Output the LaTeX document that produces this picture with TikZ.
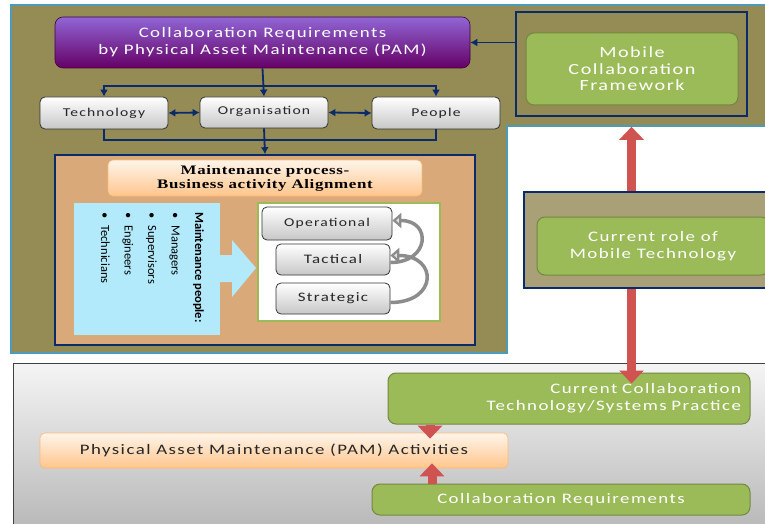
\documentclass[tikz,border=0pt]{standalone}
\usepackage{fontspec}
\setmainfont{Carlito}
\newfontfamily\widesf{Carlito}[FakeStretch=1.3,LetterSpace=10]
\newfontfamily\titlerm{Liberation Serif}[FakeStretch=1.3,LetterSpace=5]
\usetikzlibrary{arrows.meta,calc}
\definecolor{olive}{HTML}{958B55}
\definecolor{oliveli}{HTML}{A9A078}
\definecolor{navy}{HTML}{0B2A6B}
\definecolor{teal}{HTML}{4A9CB8}
\definecolor{leaf}{HTML}{9BBB59}
\definecolor{leafdk}{HTML}{71893F}
\definecolor{tan}{HTML}{D9A97A}
\definecolor{sky}{HTML}{B3EAFB}
\definecolor{arrred}{HTML}{CF5350}
\begin{document}
\begin{tikzpicture}[x=1pt,y=-1pt,
    font=\widesf\fontsize{14.5}{17}\selectfont,
    navarr/.style={draw=navy,line width=1.8pt,-{Latex[length=7pt,width=8pt]}},
    navboth/.style={draw=navy,line width=1.8pt,{Latex[length=7pt,width=8pt]}-{Latex[length=7pt,width=8pt]}},
    navline/.style={draw=navy,line width=1.8pt},
    frame/.style={draw=navy,line width=1.6pt,inner sep=0pt},
    greenbox/.style={rounded corners=8pt,fill=leaf,draw=leafdk,line width=1pt,text=white,align=center,inner sep=0pt},
    graybox/.style={rounded corners=5pt,draw=black!80,line width=0.8pt,top color=white,bottom color=black!22,text=black!85,inner sep=0pt,
        font=\widesf\fontsize{12}{14}\selectfont},
    peachbox/.style={rounded corners=5pt,top color=orange!8,bottom color=orange!45,draw=orange!55,line width=0.6pt,inner sep=0pt},
    redarr/.style={draw=arrred,line width=9pt,-{Triangle[length=13pt,width=24pt]}},
    curvearr/.style={draw=black!45,line width=3.5pt,-{Triangle[length=9pt,width=15pt,fill=black!12]}}]
    \useasboundingbox (0,0) rectangle (765,524);
    % panels
    \fill[white] (0,0) rectangle (765,524);
    \draw[fill=olive,draw=teal,line width=2pt] (11,5) -- (770,5) -- (770,126) -- (507,126) -- (507,353) -- (11,353) -- cycle;
    \draw[top color=black!4,bottom color=black!28,draw=black!75,line width=1pt] (13,363) rectangle (770,530);
    % top part
    \node[frame,minimum width=231,minimum height=104] (mcfframe) at (631.5,64) {};
    \node[greenbox,minimum width=212,minimum height=72,font=\widesf\fontsize{15.5}{16.5}\selectfont] (mcf) at (632,69)
        {Mobile\\Collaboration\\Framework};
    \node[rounded corners=8pt,top color=violet!55!blue!60,bottom color=violet!80!black,draw=violet!50!black,line width=0.6pt,
        minimum width=415,minimum height=51,inner sep=0pt,text=white,align=center]
        (pam) at (262.5,42.5) {Collaboration Requirements\\by Physical Asset Maintenance (PAM)};
    \node[graybox,minimum width=128,minimum height=32] (tech) at (104,113) {Technology};
    \node[graybox,minimum width=128,minimum height=31,text depth=4pt] (org) at (264,112.5) {Organisation};
    \node[graybox,minimum width=128,minimum height=32] (people) at (436,113) {People};
    \draw[navarr] (mcfframe.west |- pam.east) -- (pam.east);
    \draw[navarr] (pam.south) -- (org.north);
    \coordinate (split) at (264,86);
    \draw[navboth] (tech.north) |- (split) -| (people.north);
    \draw[navboth] (tech.east) -- (org.west);
    \draw[navboth] (org.east) -- (people.west);
    \coordinate (join) at (264,140);
    \draw[navline] (tech.south) |- (join) -| (people.south);
    % alignment block
    \node[frame,fill=tan,minimum width=420,minimum height=190] (align) at (265,250) {};
    \draw[navarr] (org.south) -- (align.north);
    \node[peachbox,minimum width=314,minimum height=36,align=center,font=\titlerm\bfseries\fontsize{13}{14}\selectfont]
        (mproc) at (265,178) {Maintenance process-\\Business activity Alignment};
    \node[fill=sky,minimum width=146,minimum height=132,inner sep=0pt] (mpeople) at (147,269) {};
    \fill[sky] (mpeople.east |- 0,255) -- (232,255) -- (232,240) -- (256,268) -- (232,297) -- (232,282) -- (mpeople.east |- 0,282) -- cycle;
    \node[rotate=-90,anchor=north west,align=left,inner sep=0pt,font=\fontsize{12.5}{23.5}\selectfont] (plist) at (204,212)
        {\textbf{Maintenance people:}\\\textbullet\hspace{7pt}Managers\\\textbullet\hspace{7pt}Supervisors\\\textbullet\hspace{7pt}Engineers\\\textbullet\hspace{7pt}Technicians};
    \node[fill=white,draw=leaf,line width=1.8pt,minimum width=182,minimum height=118,inner sep=0pt] (levels) at (349,262) {};
    \node[graybox,minimum width=130,minimum height=33] (oper) at (327,223.5) {Operational};
    \node[graybox,minimum width=114,minimum height=31,font=\widesf\fontsize{13}{14}\selectfont] (tact) at (333,259.5) {Tactical};
    \node[graybox,minimum width=114,minimum height=31,font=\widesf\fontsize{13}{14}\selectfont] (strat) at (333,298.5) {Strategic};
    \draw[curvearr] ([yshift=-4pt]strat.east) to[out=0,in=0,looseness=2.6] ([yshift=4pt]tact.east);
    \draw[curvearr] ([yshift=-3pt]tact.east) to[out=0,in=0,looseness=2.4] ([yshift=3pt]oper.east);
    % right column
    \node[frame,fill=oliveli,minimum width=243,minimum height=96] (roleframe) at (645.5,240) {};
    \node[greenbox,minimum width=232,minimum height=58] (role) at (653,246) {Current role of\\Mobile Technology};
    \draw[redarr] (mcfframe.south |- roleframe.north) -- ([yshift=-10pt]mcfframe.south);
    % bottom part
    \node[greenbox,minimum width=362,minimum height=51,align=right,text width=344] (currcoll) at (569,398.5)
        {Current Collaboration\\Technology/Systems Practice};
    \node[peachbox,minimum width=468,minimum height=35,text=black!85] (pamact) at (274,450.5) {Physical Asset Maintenance (PAM) Activities};
    \node[greenbox,minimum width=378,minimum height=31] (collreq) at (561,499.5) {Collaboration Requirements};
    \draw[redarr] (mcfframe.south |- roleframe.south) -- ([yshift=-11pt]mcfframe.south |- currcoll.north);
    \draw[redarr] (430,0 |- currcoll.south) -- ([yshift=-6pt]430,0 |- pamact.north);
    \draw[redarr] (432,0 |- collreq.north) -- ([yshift=5pt]432,0 |- pamact.south);
\end{tikzpicture}
\end{document}
